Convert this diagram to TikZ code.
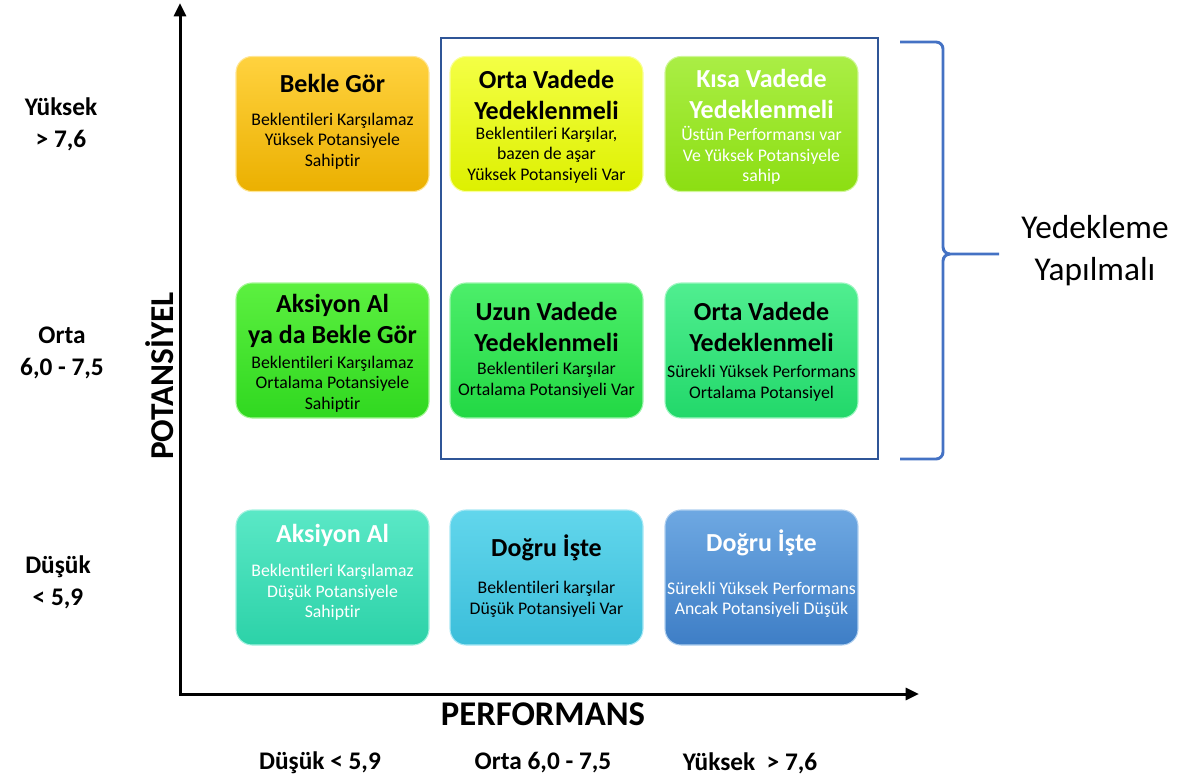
\documentclass[tikz,border=0pt]{standalone}
\usepackage{fontspec}
\setmainfont{Carlito}[Ligatures=NoCommon]
\usetikzlibrary{arrows.meta}

\definecolor{frameblue}{HTML}{2F5597}
\definecolor{braceblue}{HTML}{4472C4}
\definecolor{oneA}{HTML}{FFD23F}\definecolor{oneB}{HTML}{EBB000}
\definecolor{twoA}{HTML}{F4FF45}\definecolor{twoB}{HTML}{DDF000}
\definecolor{threeA}{HTML}{AAEE45}\definecolor{threeB}{HTML}{8CDE12}
\definecolor{fourA}{HTML}{5CF040}\definecolor{fourB}{HTML}{30D820}
\definecolor{fiveA}{HTML}{4CEE6A}\definecolor{fiveB}{HTML}{22D844}
\definecolor{sixA}{HTML}{50EE90}\definecolor{sixB}{HTML}{22D86A}
\definecolor{sevenA}{HTML}{5AE8C6}\definecolor{sevenB}{HTML}{2CD2A8}
\definecolor{eightA}{HTML}{62D6EC}\definecolor{eightB}{HTML}{3BBEDA}
\definecolor{nineA}{HTML}{6EA8E2}\definecolor{nineB}{HTML}{3E7EC6}

\tikzset{
  cell/.style 2 args={rounded corners=12pt, minimum width=144.75pt, minimum height=101.25pt,
    top color=#1, bottom color=#2, draw=#1!55!white, line width=0.8pt},
  ttl/.style={font=\bfseries\fontsize{19.5}{23.25}\selectfont, align=center, inner sep=0pt},
  txt/.style={font=\fontsize{13.3}{15.4}\selectfont, align=center, inner sep=0pt},
  axlbl/.style={font=\bfseries\fontsize{19}{24}\selectfont, align=center, inner sep=0pt},
  axis/.style={line width=2.25pt, {Triangle[length=10pt,width=9pt]}-{Triangle[length=10pt,width=9pt]}},
}

\begin{document}
\begin{tikzpicture}[x=0.75pt,y=-0.75pt]
  \useasboundingbox (0,0) rectangle (1185,782);

  % top row
  \node[cell={oneA}{oneB}] (c11) at (332.5,124) {};
  \node[cell={twoA}{twoB}] (c12) at (546.5,124) {};
  \node[cell={threeA}{threeB}] (c13) at (761.5,124) {};
  % middle row
  \node[cell={fourA}{fourB}] (c21) at (332.5,350.5) {};
  \node[cell={fiveA}{fiveB}] (c22) at (546.5,350.5) {};
  \node[cell={sixA}{sixB}] (c23) at (761.5,350.5) {};
  % bottom row
  \node[cell={sevenA}{sevenB}] (c31) at (332.5,577.5) {};
  \node[cell={eightA}{eightB}] (c32) at (546.5,577.5) {};
  \node[cell={nineA}{nineB}] (c33) at (761.5,577.5) {};

  \node[ttl] (t11) at (332.5,83) {Bekle Gör};
  \node[txt] (b11) at (332.5,141) {Beklentileri Karşılamaz\\Yüksek Potansiyele\\Sahiptir};
  \node[ttl] (t12) at (546.5,94.5) {Orta Vadede\\Yedeklenmeli};
  \node[txt] (b12) at (546.5,155) {Beklentileri Karşılar,\\bazen de aşar\\Yüksek Potansiyeli Var};
  \node[ttl,text=white] (t13) at (761.5,93.5) {Kısa Vadede\\Yedeklenmeli};
  \node[txt,text=white] (b13) at (761.5,155.5) {Üstün Performansı var\\Ve Yüksek Potansiyele\\sahip};

  \node[ttl] (t21) at (332.5,320.5) {Aksiyon Al\\ya da Bekle Gör};
  \node[txt] (b21) at (332.5,384) {Beklentileri Karşılamaz\\Ortalama Potansiyele\\Sahiptir};
  \node[ttl] (t22) at (546.5,327) {Uzun Vadede\\Yedeklenmeli};
  \node[txt] (b22) at (546.5,380.5) {Beklentileri Karşılar\\Ortalama Potansiyeli Var};
  \node[ttl] (t23) at (761.5,327) {Orta Vadede\\Yedeklenmeli};
  \node[txt] (b23) at (761.5,383.5) {Sürekli Yüksek Performans\\Ortalama Potansiyel};

  \node[ttl,text=white] (t31) at (332.5,535) {Aksiyon Al};
  \node[txt,text=white] (b31) at (332.5,592.5) {Beklentileri Karşılamaz\\Düşük Potansiyele\\Sahiptir};
  \node[ttl] (t32) at (546.5,548) {Doğru İşte};
  \node[txt] (b32) at (546.5,599.5) {Beklentileri karşılar\\Düşük Potansiyeli Var};
  \node[ttl,text=white] (t33) at (761.5,543) {Doğru İşte};
  \node[txt,text=white] (b33) at (761.5,600) {Sürekli Yüksek Performans\\Ancak Potansiyeli Düşük};

  % frame and brace
  \draw[frameblue,line width=1.7pt] (441,38) rectangle (878,459);
  \coordinate (brtop) at (900,42);
  \coordinate (brtip) at (999,254);
  \coordinate (brbot) at (900,459);
  \draw[braceblue,line width=2.2pt] (brtop) -- (936,42) to[out=0,in=90] (943,49) -- (943,247)
    to[out=-90,in=180] (950,254) -- (brtip);
  \draw[braceblue,line width=2.2pt] (950,254) to[out=180,in=90] (943,261) -- (943,452)
    to[out=-90,in=0] (936,459) -- (brbot);
  \node[font=\fontsize{25}{31.5}\selectfont, align=center] (ydk) at (1095,251) {Yedekleme\\Yapılmalı};

  % axes
  \coordinate (o) at (180,694);
  \coordinate (ytop) at (180,3);
  \coordinate (xend) at (919,694);
  \draw[axis] (ytop) -- (o) -- (xend);

  \node[font=\bfseries\fontsize{25}{30}\selectfont, rotate=90] (pot) at (160,376) {POTANSİYEL};
  \node[font=\bfseries\fontsize{26}{30}\selectfont] (perf) at (543,714) {PERFORMANS};

  \node[axlbl] (yh) at (61,124) {Yüksek\\> 7,6};
  \node[axlbl] (yo) at (62,353) {Orta\\6,0 - 7,5};
  \node[axlbl] (yl) at (58,582) {Düşük\\< 5,9};

  \node[axlbl] (xl) at (320,763) {Düşük < 5,9};
  \node[axlbl] (xo) at (543,763) {Orta 6,0 - 7,5};
  \node[axlbl] (xh) at (750,763) {Yüksek~ > 7,6};
\end{tikzpicture}
\end{document}
